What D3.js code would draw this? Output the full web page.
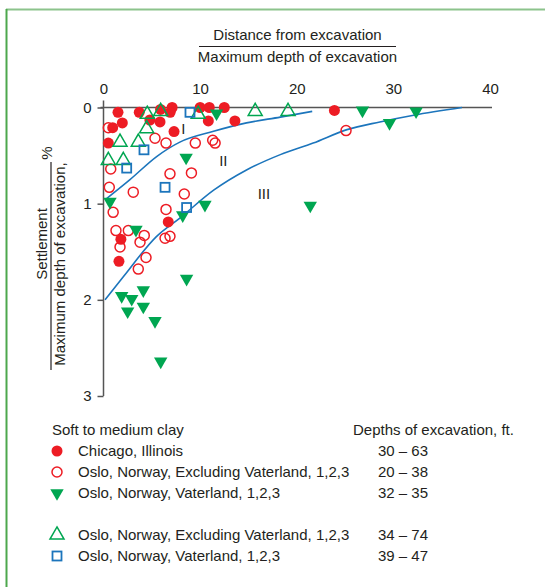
<!DOCTYPE html>
<html>
<head>
<meta charset="utf-8">
<script src="https://cdn.jsdelivr.net/npm/d3@7"></script>
<style>
  body { margin: 0; background: #fff; }
  svg text { font-family: "Liberation Sans", Arial, sans-serif; fill: #231f20; }
</style>
</head>
<body>
<svg id="svg" width="545" height="587"></svg>
<script>
// data: [distance ratio, settlement %]
var chicago = [[1.5, 0.05], [3.7, 0.05], [7.1, 0.0], [6.9, 0.05], [5.9, 0.02], [1.95, 0.16], [0.95, 0.21],
  [0.5, 0.37], [4.8, 0.13], [5.85, 0.15], [7.3, 0.25], [10.0, 0.0], [10.95, 0.0], [12.5, 0.0],
  [10.85, 0.14], [13.6, 0.14], [23.9, 0.03], [6.7, 1.19], [1.8, 1.37], [1.6, 1.6]];
var osloExcl = [[0.5, 0.21], [5.33, 0.32], [6.47, 0.37], [9.5, 0.37], [11.3, 0.34], [11.55, 0.37],
  [0.75, 0.64], [6.88, 0.69], [9.1, 0.68], [0.6, 0.83], [3.08, 0.88], [8.36, 0.9], [25.1, 0.24],
  [1.0, 1.09], [6.47, 1.06], [1.29, 1.28], [2.57, 1.28], [4.22, 1.33], [3.78, 1.4], [1.71, 1.45],
  [6.37, 1.36], [6.88, 1.34], [4.4, 1.56], [3.6, 1.68]];
var osloVat = [[11.7, 0.06], [8.55, 0.52], [0.67, 0.98], [26.8, 0.03], [29.6, 0.16], [32.35, 0.04],
  [10.5, 1.01], [21.4, 1.02], [3.36, 1.27], [8.2, 1.12], [8.6, 1.78], [1.88, 1.96], [4.12, 1.9],
  [2.92, 1.99], [4.12, 2.07], [2.5, 2.12], [5.33, 2.22], [5.92, 2.64]];
var osloExcl2 = [[4.53, 0.07], [5.92, 0.04], [4.47, 0.22], [1.71, 0.36], [3.6, 0.36], [0.5, 0.55],
  [2.05, 0.55], [9.8, 0.07], [15.7, 0.04], [19.1, 0.04]];
var osloVat2 = [[8.95, 0.05], [4.19, 0.44], [2.4, 0.63], [6.37, 0.83], [8.6, 1.04]];

var curveI = [[0.15, 0.96], [2.74, 0.75], [5.5, 0.51], [7.9, 0.36], [11.3, 0.25], [14.8, 0.16],
  [18.3, 0.1], [21.6, 0.04]];
var curveII = [[0.15, 2.0], [2.05, 1.76], [5.5, 1.34], [7.9, 1.15], [11.4, 0.86], [14.8, 0.65],
  [18.3, 0.49], [21.7, 0.37], [25.2, 0.23], [28.6, 0.15], [32.1, 0.08], [37.1, 0.0]];
var zoneLabels = [["I", 8.25, 0.22], ["II", 12.4, 0.56], ["III", 16.6, 0.9]];

var xTicks = [0, 10, 20, 30, 40],
  yTicks = [0, 1, 2, 3];

var legendRows = [
  ["Chicago, Illinois", "30 – 63"],
  ["Oslo, Norway, Excluding Vaterland, 1,2,3", "20 – 38"],
  ["Oslo, Norway, Vaterland, 1,2,3", "32 – 35"],
  ["Oslo, Norway, Excluding Vaterland, 1,2,3", "34 – 74"],
  ["Oslo, Norway, Vaterland, 1,2,3", "39 – 47"]
];

var red = "#ed1c24", green = "#00a651", blue = "#1c75bc", axisCol = "#555";

var svg = d3.select("#svg");

// frame
svg.append("line").attr("x1", 6).attr("x2", 545).attr("y1", 9.5).attr("y2", 9.5)
  .attr("stroke", "#8cc38c").attr("stroke-width", 2);
svg.append("line").attr("x1", 6.5).attr("x2", 6.5).attr("y1", 9).attr("y2", 587)
  .attr("stroke", "#4da74d").attr("stroke-width", 2);

var xScale = d3.scaleLinear().domain([0, 40]).range([103.5, 490]);
var yScale = d3.scaleLinear().domain([0, 3]).range([107.5, 396]);

// axes
svg.append("g")
  .attr("transform", "translate(0," + yScale(0) + ")")
  .call(d3.axisTop(xScale).tickValues(xTicks).tickFormat(d3.format("d")).tickSize(0).tickPadding(14))
  .call(function (g) { g.select(".domain").remove(); })
  .selectAll("text").style("font-size", "15px").attr("fill", "#231f20");

svg.append("g")
  .attr("transform", "translate(" + xScale(0) + ",0)")
  .call(d3.axisLeft(yScale).tickValues(yTicks).tickFormat(d3.format("d")).tickSize(6).tickPadding(6))
  .call(function (g) {
    g.select(".domain").remove();
    g.selectAll("line").attr("stroke", axisCol).attr("stroke-width", 1.5);
  })
  .selectAll("text").style("font-size", "15px").attr("fill", "#231f20");

svg.append("line").attr("x1", xScale(0) - 3).attr("x2", 492)
  .attr("y1", yScale(0)).attr("y2", yScale(0))
  .attr("stroke", axisCol).attr("stroke-width", 1.5);
svg.append("line").attr("x1", xScale(0)).attr("x2", xScale(0))
  .attr("y1", yScale(0) - 7).attr("y2", yScale(3))
  .attr("stroke", axisCol).attr("stroke-width", 1.5);

// axis titles
svg.append("text").attr("x", 297.5).attr("y", 40).attr("text-anchor", "middle")
  .style("font-size", "15px").text("Distance from excavation");
svg.append("line").attr("x1", 199).attr("x2", 396).attr("y1", 46.5).attr("y2", 46.5)
  .attr("stroke", "#231f20").attr("stroke-width", 1.2);
svg.append("text").attr("x", 297.5).attr("y", 62).attr("text-anchor", "middle")
  .style("font-size", "15px").text("Maximum depth of excavation");

var yt = svg.append("g").attr("transform", "translate(51,266) rotate(-90)");
yt.append("text").attr("x", 22).attr("y", -4).attr("text-anchor", "middle")
  .style("font-size", "15px").text("Settlement");
yt.append("line").attr("x1", -104).attr("x2", 104).attr("y1", 0).attr("y2", 0)
  .attr("stroke", "#231f20").attr("stroke-width", 1.2);
yt.append("text").attr("x", 2).attr("y", 14).attr("text-anchor", "middle")
  .style("font-size", "15px").text("Maximum depth of excavation,");
yt.append("text").attr("x", 113).attr("y", 1).attr("text-anchor", "middle")
  .style("font-size", "15px").text("%");

// curves
var lineGen = d3.line()
  .x(function (d) { return xScale(d[0]); })
  .y(function (d) { return yScale(d[1]); })
  .curve(d3.curveMonotoneX);
[curveI, curveII].forEach(function (c) {
  svg.append("path").attr("d", lineGen(c)).attr("fill", "none")
    .attr("stroke", blue).attr("stroke-width", 1.6);
});

svg.selectAll(".zone").data(zoneLabels).enter().append("text")
  .attr("x", function (d) { return xScale(d[1]); })
  .attr("y", function (d) { return yScale(d[2]) + 5; })
  .attr("text-anchor", "middle").style("font-size", "15px")
  .text(function (d) { return d[0]; });

// markers
var triDown = d3.symbol().type(d3.symbolTriangle).size(78)();
var triUp = d3.symbol().type(d3.symbolTriangle).size(85)();

function drawMarker(g, kind) {
  if (kind == 0) {
    g.append("circle").attr("r", 5.5).attr("fill", red);
  } else if (kind == 1) {
    g.append("circle").attr("r", 5).attr("fill", "none").attr("stroke", red).attr("stroke-width", 1.5);
  } else if (kind == 2) {
    g.append("path").attr("d", triDown).attr("transform", "rotate(180)").attr("fill", green);
  } else if (kind == 3) {
    g.append("path").attr("d", triUp).attr("fill", "none").attr("stroke", green).attr("stroke-width", 1.5);
  } else {
    g.append("rect").attr("x", -4.5).attr("y", -4.5).attr("width", 9).attr("height", 9)
      .attr("fill", "none").attr("stroke", blue).attr("stroke-width", 1.8);
  }
}

[chicago, osloExcl, osloVat, osloExcl2, osloVat2].forEach(function (series, k) {
  series.forEach(function (d) {
    var g = svg.append("g")
      .attr("transform", "translate(" + xScale(d[0]) + "," + yScale(d[1]) + ")");
    drawMarker(g, k);
  });
});

// legend
svg.append("text").attr("x", 52).attr("y", 435).style("font-size", "15px").text("Soft to medium clay");
svg.append("text").attr("x", 353).attr("y", 435).style("font-size", "15px").text("Depths of excavation, ft.");
var rowY = [451, 472, 493, 535, 556];
legendRows.forEach(function (r, i) {
  var g = svg.append("g").attr("transform", "translate(57," + rowY[i] + ")");
  drawMarker(g, i);
  svg.append("text").attr("x", 78).attr("y", rowY[i] + 5).style("font-size", "15px").text(r[0]);
  svg.append("text").attr("x", 378).attr("y", rowY[i] + 5).style("font-size", "15px").text(r[1]);
});
</script>
</body>
</html>
